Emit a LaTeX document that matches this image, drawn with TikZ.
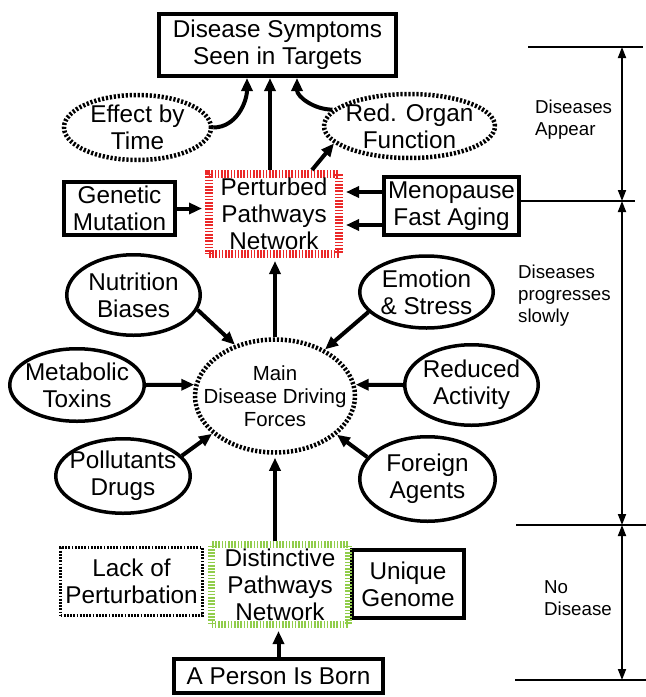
\documentclass[tikz,border=0pt]{standalone}
\usepackage{fontspec}
\setmainfont{Liberation Sans}
\usetikzlibrary{arrows.meta,calc,shapes.geometric}
\definecolor{pertred}{RGB}{235,40,40}
\definecolor{distgreen}{RGB}{145,205,75}
\begin{document}
\begin{tikzpicture}[x=1pt,y=-1pt,
  every node/.style={inner sep=0pt, align=center, font=\fontsize{24.3}{27}\selectfont},
  boxn/.style={draw, line width=4pt, rectangle},
  ovaln/.style={draw, line width=3.5pt, ellipse, inner xsep=-10pt},
  dotell/.style={draw, line width=4.5pt, ellipse, inner xsep=-18pt, dash pattern=on 2.2pt off 1.8pt},
  arr/.style={line width=4pt, -{Triangle[length=13pt,width=11pt]}},
  scalearr/.style={line width=1.8pt, {Triangle[length=11pt,width=8pt]}-{Triangle[length=11pt,width=8pt]}},
  scaleline/.style={line width=1.8pt},
  lbl/.style={font=\fontsize{18.7}{21.7}\selectfont, align=left, anchor=base west},
]
\useasboundingbox[fill=white] (0,0) rectangle (646,697);

% top box
\node[boxn, minimum width=237pt, minimum height=62pt] (top) at (277.5,45) {Disease Symptoms\\Seen in Targets};
\coordinate (tin1) at (247,78);
\coordinate (tin2) at (270,78);
\coordinate (tin3) at (297,78);

% dotted ellipses
\node[dotell, minimum width=147pt, minimum height=65pt] (eff) at (137.5,127.5) {Effect by\\Time};
\node[dotell, minimum width=171pt, minimum height=64pt] (red) at (409.5,126) {Red. Organ\\Function};

% perturbed
\node[draw=pertred, line width=8pt, dash pattern=on 1.6pt off 1.6pt, minimum width=130pt, minimum height=80pt] (pert) at (274,214) {Perturbed\\Pathways\\Network};
\node[boxn, minimum width=111pt, minimum height=53pt] (gen) at (119.5,208.5) {Genetic\\Mutation};
\node[boxn, minimum width=135pt, minimum height=58pt] (men) at (451.5,206) {Menopause\\Fast Aging};

% driving forces
\node[dotell, minimum width=160pt, minimum height=113pt, font=\fontsize{20.4}{23}\selectfont] (main) at (275,396) {Main\\Disease Driving\\Forces};
\node[ovaln, minimum width=133.5pt, minimum height=80.5pt] (nut) at (133.5,295) {Nutrition\\Biases};
\node[ovaln, minimum width=133.5pt, minimum height=72pt] (emo) at (426.5,292) {Emotion\\\& Stress};
\node[ovaln, minimum width=134.5pt, minimum height=72.5pt] (met) at (77,385) {Metabolic\\Toxins};
\node[ovaln, minimum width=133.5pt, minimum height=80.5pt] (redu) at (471.5,385) {Reduced\\Activity};
\node[ovaln, minimum width=134.5pt, minimum height=74.5pt] (pol) at (123,476) {Pollutants\\Drugs};
\node[ovaln, minimum width=135.5pt, minimum height=84.5pt] (for) at (427.5,479) {Foreign\\Agents};

% bottom
\node[draw, line width=3.5pt, dash pattern=on 1.8pt off 1.4pt, minimum width=142pt, minimum height=68pt] (lack) at (131.5,581.5) {Lack of\\Perturbation};
\node[boxn, minimum width=112pt, minimum height=68pt] (uni) at (408,584) {Unique\\Genome};
\node[draw=distgreen, fill=white, line width=7pt, dash pattern=on 1.6pt off 1.6pt, minimum width=137pt, minimum height=80pt] (dist) at (280,584.5) {Distinctive\\Pathways\\Network};
\node[boxn, minimum width=209pt, minimum height=34pt] (per) at (278.5,676) {A Person Is Born};

% connectors
\draw[arr] (eff.east) to[out=0,in=-90] (tin1);
\draw[arr] (pert.north -| tin2) -- (tin2);
\draw[arr] (red.168) to[out=180,in=-90] (tin3);
\draw[arr] ($(pert.north)+(38,0)$) -- (red.193);
\draw[arr, shorten >=3pt] (gen.east) -- (gen.east -| pert.west);
\coordinate (m1) at ($(men.west)+(0,-14)$);
\coordinate (m2) at ($(men.west)+(0,19)$);
\draw[arr, shorten >=3pt] (m1) -- (m1 -| pert.east);
\draw[arr, shorten >=3pt] (m2) -- (m2 -| pert.east);
\draw[arr, shorten >=3pt] (main.north) -- (main.north |- pert.south);
\draw[arr] (nut.-13) -- (main.128);
\draw[arr] (emo.199) -- (main.43);
\draw[arr] (met.east) -- (main.172);
\draw[arr] (redu.west) -- (main.8);
\draw[arr] (pol.19) -- (main.211);
\draw[arr] (for.160) -- (main.-32);
\draw[arr, shorten >=3pt] (dist.north -| main.south) -- (main.south);
\draw[arr, shorten >=3pt] (per.north) -- (per.north |- dist.south);

% scale
\coordinate (s1l) at (528,47);  \coordinate (s1r) at (643,47);
\coordinate (s2)  at (622,201); \coordinate (s2r) at (635,201);
\coordinate (s3l) at (516,525); \coordinate (s3r) at (646,525);
\coordinate (s4l) at (515,680); \coordinate (s4r) at (646,680);
\draw[scaleline] (s1l) -- (s1r);
\draw[scaleline] (men.east |- s2) -- (s2r);
\draw[scaleline] (s3l) -- (s3r);
\draw[scaleline] (s4l) -- (s4r);
\draw[scalearr] (s1l -| s2) -- (s2);
\draw[scalearr] (s2) -- (s3l -| s2);
\draw[scalearr] (s3l -| s2) -- (s4l -| s2);

\node[lbl] (lab1) at (535,135) {Diseases\\Appear};
\node[lbl] (lab2) at (518,322) {Diseases\\progresses\\slowly};
\node[lbl] (lab3) at (544,615) {No\\Disease};
\end{tikzpicture}
\end{document}
